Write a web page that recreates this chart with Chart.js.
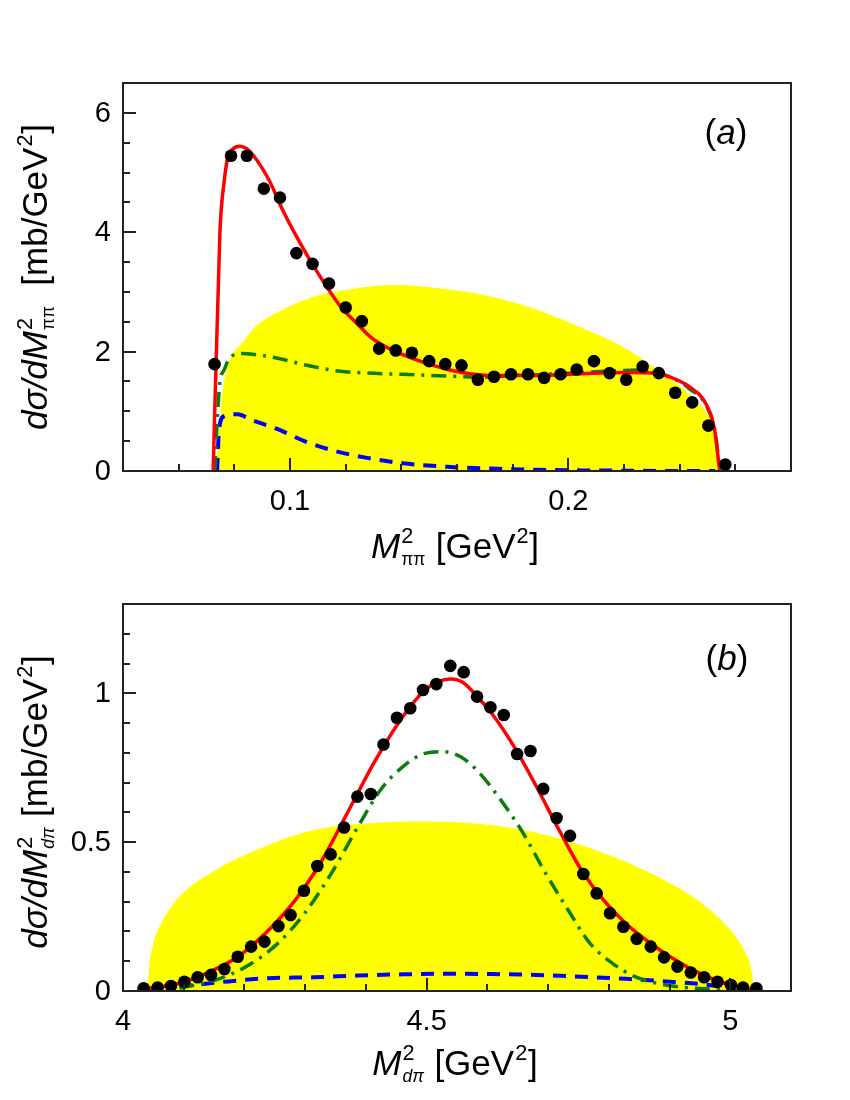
<!DOCTYPE html>
<html><head><meta charset="utf-8">
<script src="https://cdn.jsdelivr.net/npm/chart.js@4.4.1/dist/chart.umd.min.js"></script>
<style>
html,body{margin:0;padding:0;background:#fff;width:850px;height:1100px;overflow:hidden}
.wrap{position:absolute;left:0;width:850px}
</style></head><body>
<div class="wrap" style="top:0;height:585px"><canvas id="ca" width="850" height="585"></canvas></div>
<div class="wrap" style="top:585px;height:515px"><canvas id="cb" width="850" height="515"></canvas></div>
<script>
// ---------- Panel (a): M^2_pipi ----------
const aPointsX = [0.0729,0.0788,0.0845,0.0906,0.0964,0.1023,0.1081,0.1140,0.1200,0.1258,0.1320,0.1380,0.1438,0.1500,0.1558,0.1616,0.1675,0.1733,0.1794,0.1855,0.1913,0.1972,0.2030,0.2092,0.2148,0.2208,0.2267,0.2325,0.2384,0.2445,0.2503,0.2564];
const aPointsY = [1.79,5.28,5.28,4.73,4.58,3.65,3.47,3.14,2.74,2.51,2.05,2.02,1.98,1.84,1.79,1.77,1.53,1.58,1.62,1.62,1.56,1.62,1.70,1.84,1.64,1.53,1.75,1.64,1.31,1.15,0.76,0.11];
const aTotalX = [0.0724,0.0748,0.0764,0.0777,0.0796,0.0820,0.0844,0.0868,0.0925,0.0976,0.1036,0.1101,0.1181,0.1245,0.1293,0.1341,0.1405,0.1486,0.1566,0.1646,0.1726,0.1887,0.2047,0.2208,0.2304,0.2368,0.2432,0.2496,0.2525,0.2544];
const aTotalY = [0,3.98,4.87,5.26,5.40,5.44,5.40,5.29,4.87,4.35,3.82,3.31,2.76,2.45,2.23,2.09,1.95,1.81,1.70,1.63,1.60,1.60,1.63,1.65,1.64,1.57,1.42,1.11,0.70,0];
const aGreenX = [0.0730,0.0740,0.0748,0.0764,0.0780,0.0828,0.0876,0.0956,0.1052,0.1165,0.1277,0.1405,0.1566,0.1678,0.1806,0.1966,0.2127,0.2255,0.2368,0.2432,0.2496,0.2528,0.2544];
const aGreenY = [0,0.97,1.48,1.70,1.87,1.97,1.95,1.89,1.78,1.68,1.64,1.62,1.59,1.57,1.60,1.63,1.67,1.69,1.57,1.39,1.09,0.64,0];
const aBlueX = [0.0738,0.0745,0.0764,0.0812,0.0860,0.0956,0.1052,0.1165,0.1277,0.1405,0.1566,0.1726,0.1887,0.2047,0.2208,0.2368,0.2528];
const aBlueY = [0,0.70,0.92,0.95,0.86,0.70,0.50,0.33,0.22,0.13,0.07,0.04,0.02,0.01,0.005,0,0];
const aPhaseX = [0.0732,0.0740,0.0756,0.0780,0.0828,0.0876,0.0973,0.1085,0.1213,0.1374,0.1534,0.1726,0.1887,0.2047,0.2192,0.2304,0.2416,0.2496,0.2528,0.2544];
const aPhaseY = [0,0.42,1.25,1.81,2.14,2.42,2.70,2.92,3.04,3.12,3.06,2.92,2.70,2.40,2.09,1.75,1.36,0.97,0.64,0];
const aXTicks = [0.1, 0.2];
const aXTickLabels = ['0.1', '0.2'];
const aYTicks = [0, 2, 4, 6];
const aYTickLabels = ['0', '2', '4', '6'];

// ---------- Panel (b): M^2_dpi ----------
const bPointsX = [4.034,4.057,4.079,4.101,4.123,4.145,4.167,4.189,4.211,4.233,4.256,4.276,4.298,4.320,4.342,4.364,4.386,4.408,4.429,4.451,4.473,4.494,4.516,4.539,4.561,4.583,4.605,4.627,4.649,4.671,4.692,4.714,4.736,4.758,4.780,4.802,4.824,4.846,4.869,4.891,4.913,4.935,4.957,4.979,5.001,5.021,5.043];
const bPointsY = [0.009,0.012,0.017,0.031,0.046,0.054,0.074,0.115,0.149,0.166,0.218,0.255,0.337,0.420,0.459,0.549,0.653,0.662,0.828,0.918,0.950,1.011,1.031,1.092,1.071,0.989,0.953,0.927,0.796,0.806,0.679,0.581,0.521,0.393,0.328,0.261,0.216,0.175,0.149,0.113,0.082,0.062,0.046,0.031,0.020,0.012,0.009];
const bTotalX = [4.034,4.093,4.137,4.189,4.240,4.284,4.328,4.372,4.416,4.461,4.497,4.520,4.540,4.560,4.585,4.607,4.644,4.681,4.718,4.755,4.791,4.828,4.865,4.901,4.938,4.975,5.012,5.041];
const bTotalY = [0.006,0.026,0.059,0.115,0.205,0.306,0.440,0.608,0.776,0.922,1.010,1.040,1.048,1.036,0.985,0.933,0.821,0.686,0.541,0.406,0.306,0.227,0.166,0.115,0.071,0.037,0.015,0.003];
const bGreenX = [4.093,4.152,4.203,4.255,4.299,4.343,4.387,4.424,4.461,4.497,4.527,4.556,4.585,4.622,4.659,4.696,4.733,4.769,4.806,4.843,4.879,4.923,4.975,5.012];
const bGreenY = [0.009,0.037,0.082,0.160,0.261,0.395,0.552,0.675,0.754,0.798,0.804,0.787,0.737,0.642,0.530,0.395,0.272,0.160,0.093,0.048,0.026,0.012,0.006,0.003];
const bBlueX = [4.093,4.167,4.240,4.314,4.387,4.461,4.534,4.607,4.681,4.755,4.828,4.901,4.975,5.004];
const bBlueY = [0.015,0.031,0.043,0.046,0.052,0.056,0.058,0.057,0.054,0.048,0.041,0.031,0.017,0.003];
const bPhaseX = [4.040,4.043,4.050,4.065,4.093,4.152,4.226,4.314,4.402,4.497,4.593,4.681,4.755,4.828,4.901,4.950,4.990,5.015,5.030,5.036,5.039];
const bPhaseY = [0,0.080,0.160,0.235,0.317,0.406,0.479,0.541,0.563,0.569,0.560,0.532,0.490,0.434,0.362,0.300,0.228,0.165,0.105,0.055,0];
const bXTicks = [4, 4.5, 5];
const bXTickLabels = ['4', '4.5', '5'];
const bYTicks = [0, 0.5, 1];
const bYTickLabels = ['0', '0.5', '1'];

const FONT = '"Liberation Sans", Arial, Helvetica, sans-serif';
const zip = (xs, ys) => xs.map((x, i) => ({x, y: ys[i]}));

function fontStr(it, s) { return (it ? 'italic ' : '') + s + 'px ' + FONT; }

function drawRich(ctx, parts, size, cx, cy, rotate) {
  const supS = size * 0.62, subS = size * 0.5;
  const widths = parts.map(p => {
    if (p.t !== undefined) { ctx.font = fontStr(p.it, size); return ctx.measureText(p.t).width; }
    let w = 0;
    if (p.sup) { ctx.font = fontStr(false, supS); w = Math.max(w, ctx.measureText(p.sup).width); }
    if (p.sub) { ctx.font = fontStr(p.subIt, subS); w = Math.max(w, ctx.measureText(p.sub).width); }
    return w + size * 0.05;
  });
  const total = widths.reduce((a, b) => a + b, 0);
  ctx.save();
  ctx.translate(cx, cy);
  if (rotate) ctx.rotate(-Math.PI / 2);
  ctx.fillStyle = '#000';
  ctx.textBaseline = 'alphabetic';
  ctx.textAlign = 'left';
  let x = -total / 2;
  const base = size * 0.36;
  parts.forEach((p, i) => {
    if (p.t !== undefined) {
      ctx.font = fontStr(p.it, size);
      ctx.fillText(p.t, x, base);
    } else {
      if (p.sup) { ctx.font = fontStr(false, supS); ctx.fillText(p.sup, x + size * 0.03, base - size * 0.42); }
      if (p.sub) { ctx.font = fontStr(p.subIt, subS); ctx.fillText(p.sub, x + size * 0.03, base + size * 0.22); }
    }
    x += widths[i];
  });
  ctx.restore();
}

function decorPlugin(cfg) {
  return {
    id: 'decor',
    afterDatasetsDraw(chart) {
      const ctx = chart.ctx, a = chart.chartArea;
      const xs = chart.scales.x, ys = chart.scales.y;
      ctx.save();
      ctx.strokeStyle = '#222';
      ctx.lineWidth = 2;
      ctx.beginPath();
      for (let v = cfg.xMinorStart; v <= cfg.xMax + 1e-9; v += cfg.xMinorStep) {
        const isMajor = cfg.xTicks.some(t => Math.abs(t - v) < 1e-6);
        const px = Math.round(xs.getPixelForValue(v));
        if (px <= a.left + 1 || px >= a.right - 1) continue;
        ctx.moveTo(px, a.bottom);
        ctx.lineTo(px, a.bottom - (isMajor ? 13 : 7));
      }
      for (let v = cfg.yMin; v <= cfg.yMax + 1e-9; v += cfg.yMinorStep) {
        const isMajor = cfg.yTicks.some(t => Math.abs(t - v) < 1e-6);
        const py = Math.round(ys.getPixelForValue(v));
        if (py <= a.top + 1 || py >= a.bottom - 1) continue;
        ctx.moveTo(a.left, py);
        ctx.lineTo(a.left + (isMajor ? 13 : 7), py);
      }
      ctx.stroke();
      ctx.strokeRect(a.left, a.top, a.right - a.left, a.bottom - a.top);
      ctx.restore();
    },
    afterDraw(chart) {
      const ctx = chart.ctx, a = chart.chartArea;
      const xs = chart.scales.x, ys = chart.scales.y;
      ctx.save();
      ctx.fillStyle = '#000';
      ctx.font = '29px ' + FONT;
      ctx.textAlign = 'center';
      ctx.textBaseline = 'middle';
      cfg.xTicks.forEach((v, i) => ctx.fillText(cfg.xTickLabels[i], xs.getPixelForValue(v), a.bottom + 31));
      ctx.textAlign = 'right';
      cfg.yTicks.forEach((v, i) => ctx.fillText(cfg.yTickLabels[i], a.left - 12, ys.getPixelForValue(v) + 1));
      ctx.restore();
      drawRich(ctx, cfg.yTitle, 35, cfg.yTitlePos[0], cfg.yTitlePos[1], true);
      drawRich(ctx, cfg.xTitle, 35, cfg.xTitlePos[0], cfg.xTitlePos[1], false);
      drawRich(ctx, cfg.panel, 35, cfg.panelPos[0], cfg.panelPos[1], false);
    }
  };
}

function makeChart(id, d, cfg) {
  const curve = (data, color, width, dash, order) => ({
    data, showLine: true, borderColor: color, borderWidth: width, borderDash: dash,
    pointRadius: 0, cubicInterpolationMode: 'monotone', fill: false, order
  });
  return new Chart(document.getElementById(id), {
    type: 'scatter',
    data: {
      datasets: [
        { data: d.phase, showLine: true, borderWidth: 0, borderColor: 'rgba(0,0,0,0)', backgroundColor: '#ffff00',
          fill: 'origin', pointRadius: 0, cubicInterpolationMode: 'monotone', order: 10 },
        curve(d.blue, '#0000ff', 4, [13, 9], 5),
        curve(d.green, '#0a7d0a', 3.5, [15, 7, 3, 7], 4),
        curve(d.total, '#ff0000', 3.5, [], 3),
        { data: d.points, pointRadius: 6.3, pointBackgroundColor: '#000', pointBorderWidth: 0, showLine: false, order: 1 }
      ]
    },
    options: {
      responsive: false, animation: false, events: [],
      layout: { padding: cfg.padding },
      plugins: { legend: { display: false }, tooltip: { enabled: false } },
      scales: {
        x: {
          type: 'linear', min: cfg.xMin, max: cfg.xMax,
          grid: { display: false, drawTicks: false }, border: { display: false },
          afterFit(s) { s.height = 0; },
          ticks: { display: false }
        },
        y: {
          type: 'linear', min: cfg.yMin, max: cfg.yMax,
          grid: { display: false, drawTicks: false }, border: { display: false },
          afterFit(s) { s.width = 0; },
          ticks: { display: false }
        }
      }
    },
    plugins: [decorPlugin(cfg)]
  });
}

// top canvas spans page y 0..585; chart area 83..471
makeChart('ca', {
  phase: zip(aPhaseX, aPhaseY), blue: zip(aBlueX, aBlueY), green: zip(aGreenX, aGreenY),
  total: zip(aTotalX, aTotalY), points: zip(aPointsX, aPointsY)
}, {
  padding: { left: 123, top: 83, right: 59, bottom: 114 },
  xMin: 0.04, xMax: 0.28, yMin: 0, yMax: 6.5,
  xTicks: aXTicks, xTickLabels: aXTickLabels, yTicks: aYTicks, yTickLabels: aYTickLabels,
  xMinorStart: 0.06, xMinorStep: 0.02, yMinorStep: 0.5,
  yTitle: [{ t: 'dσ/dM', it: true }, { sup: '2', sub: 'ππ' }, { t: '  [mb/GeV' }, { sup: '2' }, { t: ']' }],
  yTitlePos: [34, 277],
  xTitle: [{ t: 'M', it: true }, { sup: '2', sub: 'ππ' }, { t: ' [GeV' }, { sup: '2' }, { t: ']' }],
  xTitlePos: [455, 545],
  panel: [{ t: '(' }, { t: 'a', it: true }, { t: ')' }],
  panelPos: [726, 131]
});

// bottom canvas spans page y 585..1100; chart area 604..991
makeChart('cb', {
  phase: zip(bPhaseX, bPhaseY), blue: zip(bBlueX, bBlueY), green: zip(bGreenX, bGreenY),
  total: zip(bTotalX, bTotalY), points: zip(bPointsX, bPointsY)
}, {
  padding: { left: 123, top: 19, right: 59, bottom: 109 },
  xMin: 4.0, xMax: 5.1, yMin: 0, yMax: 1.3,
  xTicks: bXTicks, xTickLabels: bXTickLabels, yTicks: bYTicks, yTickLabels: bYTickLabels,
  xMinorStart: 4.1, xMinorStep: 0.1, yMinorStep: 0.1,
  yTitle: [{ t: 'dσ/dM', it: true }, { sup: '2', sub: 'dπ', subIt: true }, { t: ' [mb/GeV' }, { sup: '2' }, { t: ']' }],
  yTitlePos: [34, 217],
  xTitle: [{ t: 'M', it: true }, { sup: '2', sub: 'dπ', subIt: true }, { t: ' [GeV' }, { sup: '2' }, { t: ']' }],
  xTitlePos: [455, 477],
  panel: [{ t: '(' }, { t: 'b', it: true }, { t: ')' }],
  panelPos: [727, 72]
});
</script>
</body></html>
